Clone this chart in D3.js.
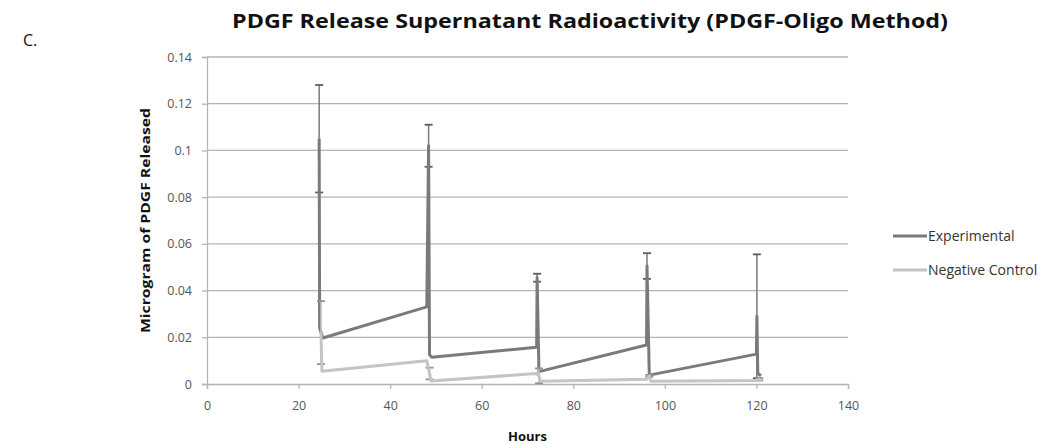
<!DOCTYPE html>
<html>
<head>
<meta charset="utf-8">
<script src="https://cdn.jsdelivr.net/npm/d3@7"></script>
<style>
  body { margin: 0; background: #fff; }
  svg { display: block; }
  text { font-family: "Open Sans", "Noto Sans", sans-serif; }
</style>
</head>
<body>
<svg id="chart" width="1050" height="444"></svg>
<script>
// ---- data ----
const xTicks = [0, 20, 40, 60, 80, 100, 120, 140];
const yTicks = [0, 0.02, 0.04, 0.06, 0.08, 0.1, 0.12, 0.14];
const yTickLabels = ["0", "0.02", "0.04", "0.06", "0.08", "0.1", "0.12", "0.14"];
const seriesNames = ["Experimental", "Negative Control"];

const expHours = [24.5, 24.6, 25.3, 48, 48.4, 48.6, 49.1, 72, 72.1, 72.5, 96, 96.1, 96.6, 120, 120.1, 120.3, 121];
const expValues = [0.105, 0.024, 0.0197, 0.033, 0.102, 0.0125, 0.0115, 0.0157, 0.0455, 0.0053, 0.0167, 0.0505, 0.0038, 0.0128, 0.029, 0.0045, 0.0035];
const expErrors = [0.023, 0, 0, 0, 0.009, 0, 0, 0, 0.0017, 0, 0, 0.0055, 0, 0, 0.0265, 0, 0];

const ctrlHours = [24.9, 25.1, 48, 48.6, 48.9, 72, 72.5, 72.8, 96, 96.6, 96.9, 120, 120.6, 120.9];
const ctrlValues = [0.022, 0.0055, 0.010, 0.0045, 0.0013, 0.0045, 0.0035, 0.0012, 0.002, 0.0035, 0.0012, 0.0015, 0.002, 0.001];
const ctrlErrors = [0.0135, 0, 0, 0.0025, 0, 0, 0.0032, 0, 0, 0.0004, 0, 0, 0.0005, 0];

// ---- layout ----
const svg = d3.select("#chart");
const L = 207, R = 848, T = 57, B = 384;
const x = d3.scaleLinear().domain([0, 140]).range([L, R]);
const y = d3.scaleLinear().domain([0, 0.14]).range([B, T]);

const gridColor = "#b4b4b4";
const darkColor = "#7a7a7a";
const lightColor = "#c4c4c4";
const tickText = "#555";

// gridlines
svg.append("g").selectAll("line").data(yTicks.slice(1)).join("line")
  .attr("x1", L).attr("x2", R)
  .attr("y1", d => y(d)).attr("y2", d => y(d))
  .attr("stroke", gridColor).attr("stroke-width", 1.3);

// y axis
const yAxis = svg.append("g").attr("transform", `translate(${L},0)`)
  .call(d3.axisLeft(y).tickValues(yTicks).tickFormat((d, i) => yTickLabels[i]).tickSize(5).tickPadding(10));
yAxis.select(".domain").attr("stroke", gridColor).attr("stroke-width", 1.3);
yAxis.selectAll(".tick line").attr("stroke", gridColor).attr("stroke-width", 1.3);
yAxis.selectAll(".tick text").attr("fill", tickText).style("font-size", "12.5px").style("font-family", "Open Sans, sans-serif");

// x axis
const xAxis = svg.append("g").attr("transform", `translate(0,${B})`)
  .call(d3.axisBottom(x).tickValues(xTicks).tickSize(5).tickPadding(12));
xAxis.select(".domain").attr("stroke", gridColor).attr("stroke-width", 1.3);
xAxis.selectAll(".tick line").attr("stroke", gridColor).attr("stroke-width", 1.3);
xAxis.selectAll(".tick text").attr("fill", tickText).style("font-size", "12.5px").style("font-family", "Open Sans, sans-serif");

// series
const series = [
  {name: seriesNames[0], hx: expHours, v: expValues, e: expErrors, color: darkColor, w: 3},
  {name: seriesNames[1], hx: ctrlHours, v: ctrlValues, e: ctrlErrors, color: lightColor, w: 3}
];
const line = d3.line().x(d => x(d[0])).y(d => y(d[1]));

series.forEach(s => {
  const pts = s.hx.map((h, i) => [h, s.v[i], s.e[i]]);
  const g = svg.append("g");
  const eb = pts.filter(p => p[2] > 0);
  g.selectAll("line.eb").data(eb).join("line").attr("class", "eb")
    .attr("x1", d => x(d[0])).attr("x2", d => x(d[0]))
    .attr("y1", d => y(d[1] + d[2])).attr("y2", d => y(Math.max(0, d[1] - d[2])))
    .attr("stroke", s.color).attr("stroke-width", 1.5);
  ["top", "bot"].forEach(k => {
    g.selectAll("line.cap" + k).data(eb).join("line").attr("class", "cap" + k)
      .attr("x1", d => x(d[0]) - 4).attr("x2", d => x(d[0]) + 4)
      .attr("y1", d => y(k === "top" ? d[1] + d[2] : Math.max(0, d[1] - d[2])))
      .attr("y2", d => y(k === "top" ? d[1] + d[2] : Math.max(0, d[1] - d[2])))
      .attr("stroke", d3.color(s.color).darker(0.8)).attr("stroke-width", 1.8);
  });
  g.append("path").datum(pts).attr("d", line)
    .attr("fill", "none").attr("stroke", s.color).attr("stroke-width", s.w)
    .attr("stroke-linejoin", "round");
});

// legend
const lg = svg.append("g");
series.forEach((s, i) => {
  const ly = 236 + i * 34;
  lg.append("line").attr("x1", 893).attr("x2", 927).attr("y1", ly).attr("y2", ly)
    .attr("stroke", s.color).attr("stroke-width", 3);
  lg.append("text").attr("x", 928).attr("y", ly + 5).text(s.name)
    .attr("fill", "#333").style("font-size", "14px");
});

// titles
svg.append("text").attr("x", 590).attr("y", 28).attr("text-anchor", "middle")
  .attr("textLength", 716).attr("lengthAdjust", "spacingAndGlyphs")
  .style("font-size", "20px").style("font-weight", "bold").attr("fill", "#111")
  .text("PDGF Release Supernatant Radioactivity (PDGF-Oligo Method)");
svg.append("text").attr("x", 23).attr("y", 46).style("font-size", "16px").attr("fill", "#111").text("C.");
svg.append("text").attr("transform", `translate(150,${(T + B) / 2}) rotate(-90)`)
  .attr("text-anchor", "middle").style("font-size", "13px").style("font-weight", "bold").attr("fill", "#111")
  .attr("textLength", 225).attr("lengthAdjust", "spacingAndGlyphs")
  .text("Microgram of PDGF Released");
svg.append("text").attr("x", (L + R) / 2).attr("y", 441).attr("text-anchor", "middle")
  .style("font-size", "13px").style("font-weight", "bold").attr("fill", "#111").text("Hours");
</script>
</body>
</html>
